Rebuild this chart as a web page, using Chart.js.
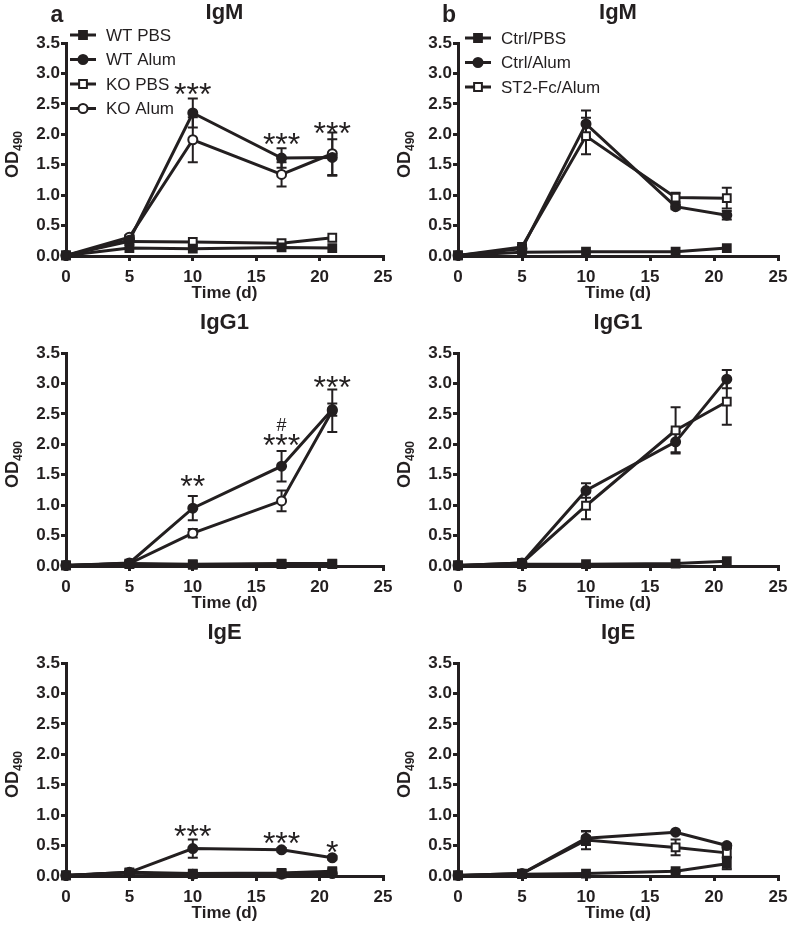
<!DOCTYPE html>
<html lang="en">
<head>
<meta charset="UTF-8">
<title>IgM, IgG1 and IgE over time</title>
<script src="https://cdn.jsdelivr.net/npm/chart.js"></script>
<style>
  body { margin: 0; background: #fff; width: 787px; height: 929px; overflow: hidden; position: relative; }
  canvas { position: absolute; }
</style>
</head>
<body>
<canvas id="aIgM"  width="392" height="310" style="left:0;top:0"></canvas>
<canvas id="bIgM"  width="395" height="310" style="left:392px;top:0"></canvas>
<canvas id="aIgG1" width="392" height="310" style="left:0;top:310px"></canvas>
<canvas id="bIgG1" width="395" height="310" style="left:392px;top:310px"></canvas>
<canvas id="aIgE"  width="392" height="310" style="left:0;top:620px"></canvas>
<canvas id="bIgE"  width="395" height="310" style="left:392px;top:620px"></canvas>

<script>
// time points (days)
const days = [0, 5, 10, 17, 21];
const groupsA = ['WT PBS', 'WT Alum', 'KO PBS', 'KO Alum'];
const groupsB = ['Ctrl/PBS', 'Ctrl/Alum', 'ST2-Fc/Alum'];
const noErr = [0, 0, 0, 0, 0];

// panel a, IgM
const aIgM_wtPBS  = [0.01, 0.13, 0.12, 0.14, 0.13];
const aIgM_wtAlum = [0.01, 0.26, 2.35, 1.61, 1.62];
const aIgM_koPBS  = [0.01, 0.24, 0.23, 0.21, 0.30];
const aIgM_koAlum = [0.01, 0.31, 1.91, 1.34, 1.68];
const aIgM_wtAlumErr = [0, 0.02, 0.24, 0.16, 0.30];
const aIgM_koAlumErr = [0, 0.03, 0.37, 0.20, 0.35];
const aIgM_stars = [['***', 10, 2.74], ['***', 17, 1.92], ['***', 21, 2.11]];

// panel a, IgG1
const aIgG1_wtPBS  = [0.01, 0.04, 0.03, 0.04, 0.04];
const aIgG1_wtAlum = [0.01, 0.05, 0.95, 1.64, 2.57];
const aIgG1_koPBS  = [0.01, 0.03, 0.02, 0.03, 0.03];
const aIgG1_koAlum = [0.01, 0.04, 0.54, 1.07, 2.55];
const aIgG1_wtAlumErr = [0, 0.01, 0.20, 0.25, 0.10];
const aIgG1_koAlumErr = [0, 0.01, 0.07, 0.17, 0.35];
const aIgG1_stars = [['**', 10, 1.40], ['***', 17, 2.07], ['#', 17, 2.32], ['***', 21, 3.03]];

// panel a, IgE
const aIgE_wtPBS  = [0.01, 0.05, 0.03, 0.04, 0.06];
const aIgE_wtAlum = [0.01, 0.06, 0.45, 0.43, 0.30];
const aIgE_koPBS  = [0.01, 0.06, 0.04, 0.05, 0.08];
const aIgE_koAlum = [0.01, 0.05, 0.03, 0.03, 0.04];
const aIgE_wtAlumErr = [0, 0, 0.15, 0.03, 0.03];
const aIgE_stars = [['***', 10, 0.74], ['***', 17, 0.63], ['*', 21, 0.48]];

// panel b, IgM
const bIgM_ctrlPBS  = [0.01, 0.06, 0.07, 0.07, 0.13];
const bIgM_ctrlAlum = [0.01, 0.12, 2.17, 0.81, 0.67];
const bIgM_st2Alum  = [0.01, 0.15, 1.97, 0.96, 0.95];
const bIgM_ctrlAlumErr = [0, 0.02, 0.22, 0.04, 0.07];
const bIgM_st2AlumErr  = [0, 0.03, 0.30, 0.08, 0.17];

// panel b, IgG1
const bIgG1_ctrlPBS  = [0.01, 0.03, 0.03, 0.04, 0.08];
const bIgG1_ctrlAlum = [0.01, 0.05, 1.24, 2.04, 3.07];
const bIgG1_st2Alum  = [0.01, 0.05, 0.99, 2.23, 2.70];
const bIgG1_ctrlAlumErr = [0, 0.01, 0.12, 0.17, 0.15];
const bIgG1_st2AlumErr  = [0, 0.01, 0.22, 0.38, 0.38];

// panel b, IgE
const bIgE_ctrlPBS  = [0.01, 0.03, 0.04, 0.08, 0.20];
const bIgE_ctrlAlum = [0.01, 0.04, 0.62, 0.72, 0.50];
const bIgE_st2Alum  = [0.01, 0.04, 0.59, 0.47, 0.38];
const bIgE_ctrlPBSErr  = [0, 0, 0, 0.02, 0.09];
const bIgE_ctrlAlumErr = [0, 0, 0.11, 0.02, 0.03];
const bIgE_st2AlumErr  = [0, 0, 0.15, 0.13, 0.07];

const ink = '#231f20';
const fontFamily = '"Liberation Sans", Arial, sans-serif';
// marker per group: filled square, filled circle, open square, open circle
const markers = [
  { style: 'rect', filled: true },
  { style: 'circle', filled: true },
  { style: 'rect', filled: false },
  { style: 'circle', filled: false }
];

function markerRadius(m) { return m.style === 'rect' ? 5.5 : 4.5; }

function drawMarker(ctx, m, x, y) {
  const r = markerRadius(m);
  ctx.save();
  ctx.fillStyle = m.filled ? ink : '#fff';
  ctx.strokeStyle = ink;
  ctx.lineWidth = 2;
  ctx.beginPath();
  if (m.style === 'rect') {
    const s = r * Math.SQRT1_2;
    ctx.rect(x - s, y - s, 2 * s, 2 * s);
  } else {
    ctx.arc(x, y, r, 0, Math.PI * 2);
  }
  ctx.fill();
  ctx.stroke();
  ctx.restore();
}

// error bars, significance marks, legend and y title
const extras = {
  id: 'extras',
  beforeDatasetsDraw(chart, args, opts) {
    const ctx = chart.ctx, yScale = chart.scales.y;
    ctx.save();
    ctx.strokeStyle = ink;
    ctx.lineWidth = 2;
    (opts.errors || []).forEach((errs, i) => {
      const meta = chart.getDatasetMeta(i);
      const pts = chart.data.datasets[i].data;
      errs.forEach((e, j) => {
        if (e < 0.015) return;
        const px = meta.data[j].x;
        const top = yScale.getPixelForValue(pts[j].y + e);
        const bot = yScale.getPixelForValue(pts[j].y - e);
        ctx.beginPath();
        ctx.moveTo(px, top); ctx.lineTo(px, bot);
        ctx.moveTo(px - 5, top); ctx.lineTo(px + 5, top);
        ctx.moveTo(px - 5, bot); ctx.lineTo(px + 5, bot);
        ctx.stroke();
      });
    });
    ctx.restore();
  },
  afterDatasetsDraw(chart, args, opts) {
    const ctx = chart.ctx, xs = chart.scales.x, ys = chart.scales.y;
    ctx.save();
    ctx.fillStyle = ink;
    ctx.textAlign = 'center';
    ctx.textBaseline = 'alphabetic';
    (opts.notes || []).forEach(([txt, x, y]) => {
      ctx.font = (txt === '#' ? '18px ' : '32px ') + fontFamily;
      const m = ctx.measureText(txt);
      const base = ys.getPixelForValue(y) + (m.actualBoundingBoxAscent - m.actualBoundingBoxDescent) / 2;
      ctx.fillText(txt, xs.getPixelForValue(x), base);
    });
    ctx.restore();
  },
  afterDraw(chart, args, opts) {
    const ctx = chart.ctx, area = chart.chartArea;
    ctx.save();
    ctx.fillStyle = ink;

    // y axis title OD490
    ctx.translate(18, (area.top + area.bottom) / 2 + 5);
    ctx.rotate(-Math.PI / 2);
    ctx.textBaseline = 'alphabetic';
    ctx.font = 'bold 18px ' + fontFamily;
    const wOD = ctx.measureText('OD').width;
    ctx.font = 'bold 12px ' + fontFamily;
    const wSub = ctx.measureText('490').width;
    const start = -(wOD + wSub) / 2;
    ctx.font = 'bold 18px ' + fontFamily;
    ctx.textAlign = 'left';
    ctx.fillText('OD', start, 0);
    ctx.font = 'bold 12px ' + fontFamily;
    ctx.fillText('490', start + wOD, 4);
    ctx.setTransform(1, 0, 0, 1, 0, 0);

    // panel letter
    if (opts.letter) {
      ctx.font = 'bold 23px ' + fontFamily;
      ctx.textAlign = 'center';
      ctx.fillText(opts.letter, area.left - 9, 22);
    }

    // legend inside the plot
    if (opts.legend) {
      const lg = opts.legend;
      ctx.font = '17px ' + fontFamily;
      ctx.textAlign = 'left';
      ctx.textBaseline = 'middle';
      chart.data.datasets.forEach((ds, i) => {
        const y = lg.y + i * 24.5;
        const x0 = area.left + lg.dx;
        ctx.strokeStyle = ink;
        ctx.lineWidth = 3;
        ctx.beginPath();
        ctx.moveTo(x0, y); ctx.lineTo(x0 + 26, y);
        ctx.stroke();
        drawMarker(ctx, markers[i], x0 + 13, y);
        ctx.fillText(ds.label, x0 + 36, y + 1);
      });
    }
    ctx.restore();
  }
};

function makePanel(id, title, groups, series, errors, notes, extra) {
  const datasets = groups.map((g, i) => {
    const m = markers[i];
    return {
      label: g,
      data: series[i].map((v, k) => ({ x: days[k], y: v })),
      borderColor: ink,
      borderWidth: 3,
      tension: 0,
      pointStyle: m.style,
      pointRadius: markerRadius(m),
      pointBackgroundColor: m.filled ? ink : '#fff',
      pointBorderColor: ink,
      pointBorderWidth: 2,
      clip: false
    };
  });

  new Chart(document.getElementById(id), {
    type: 'line',
    data: { datasets },
    plugins: [extras],
    options: {
      responsive: false,
      animation: false,
      layout: { padding: { left: 26, right: 9, top: 0, bottom: 0 } },
      plugins: {
        legend: { display: false },
        tooltip: { enabled: false },
        title: {
          display: true,
          text: title,
          fullSize: false,
          color: ink,
          font: { family: fontFamily, size: 22, weight: 'bold' },
          padding: { top: 0, bottom: 16.6 }
        },
        extras: Object.assign({ errors, notes }, extra)
      },
      scales: {
        x: {
          type: 'linear',
          min: 0, max: 25,
          border: { display: true, width: 3, color: ink },
          grid: { drawOnChartArea: false, drawTicks: true, tickLength: 5, lineWidth: 3, color: ink },
          ticks: { stepSize: 5, padding: 6, color: ink, font: { family: fontFamily, size: 17, weight: 'bold' } },
          title: {
            display: true, text: 'Time (d)', color: ink,
            font: { family: fontFamily, size: 17, weight: 'bold' },
            padding: { top: 0, bottom: 6 }
          },
          afterFit(s) { s.height = 54; s.paddingLeft = 0; s.paddingRight = 0; }
        },
        y: {
          min: 0, max: 3.5,
          border: { display: true, width: 3, color: ink },
          grid: { drawOnChartArea: false, drawTicks: true, tickLength: 5, lineWidth: 3, color: ink },
          ticks: {
            stepSize: 0.5, padding: 1, color: ink,
            font: { family: fontFamily, size: 17, weight: 'bold' },
            callback: v => v.toFixed(1)
          },
          afterFit(s) { s.width = 40; s.paddingTop = 0; s.paddingBottom = 0; }
        }
      }
    }
  });
}

makePanel('aIgM', 'IgM', groupsA,
  [aIgM_wtPBS, aIgM_wtAlum, aIgM_koPBS, aIgM_koAlum],
  [noErr, aIgM_wtAlumErr, noErr, aIgM_koAlumErr],
  aIgM_stars, { letter: 'a', legend: { y: 35, dx: 4 } });

makePanel('bIgM', 'IgM', groupsB,
  [bIgM_ctrlPBS, bIgM_ctrlAlum, bIgM_st2Alum],
  [noErr, bIgM_ctrlAlumErr, bIgM_st2AlumErr],
  [], { letter: 'b', legend: { y: 38, dx: 7 } });

makePanel('aIgG1', 'IgG1', groupsA,
  [aIgG1_wtPBS, aIgG1_wtAlum, aIgG1_koPBS, aIgG1_koAlum],
  [noErr, aIgG1_wtAlumErr, noErr, aIgG1_koAlumErr],
  aIgG1_stars, {});

makePanel('bIgG1', 'IgG1', groupsB,
  [bIgG1_ctrlPBS, bIgG1_ctrlAlum, bIgG1_st2Alum],
  [noErr, bIgG1_ctrlAlumErr, bIgG1_st2AlumErr],
  [], {});

makePanel('aIgE', 'IgE', groupsA,
  [aIgE_wtPBS, aIgE_wtAlum, aIgE_koPBS, aIgE_koAlum],
  [noErr, aIgE_wtAlumErr, noErr, noErr],
  aIgE_stars, {});

makePanel('bIgE', 'IgE', groupsB,
  [bIgE_ctrlPBS, bIgE_ctrlAlum, bIgE_st2Alum],
  [bIgE_ctrlPBSErr, bIgE_ctrlAlumErr, bIgE_st2AlumErr],
  [], {});
</script>
</body>
</html>
